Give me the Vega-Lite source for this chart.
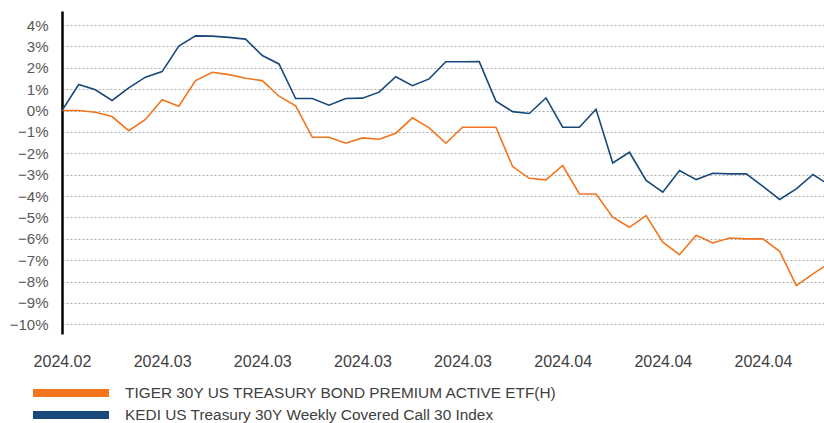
{
  "$schema": "https://vega.github.io/schema/vega-lite/v6.json",
  "width": 762,
  "height": 323,
  "autosize": {"type": "none"},
  "padding": {"left": 62, "top": 11, "right": 0, "bottom": 89},
  "config": {"view": {"stroke": null}, "font": "Liberation Sans"},
  "datasets": {
    "tiger": [
      {"date": "2024-02-22", "value": 0}, {"date": "2024-02-23", "value": 0}, {"date": "2024-02-26", "value": -0.08},
      {"date": "2024-02-27", "value": -0.28}, {"date": "2024-02-28", "value": -0.94}, {"date": "2024-02-29", "value": -0.42},
      {"date": "2024-03-01", "value": 0.51}, {"date": "2024-03-04", "value": 0.2}, {"date": "2024-03-05", "value": 1.4},
      {"date": "2024-03-06", "value": 1.79}, {"date": "2024-03-07", "value": 1.68}, {"date": "2024-03-08", "value": 1.51},
      {"date": "2024-03-11", "value": 1.4}, {"date": "2024-03-12", "value": 0.67}, {"date": "2024-03-13", "value": 0.22},
      {"date": "2024-03-14", "value": -1.25}, {"date": "2024-03-15", "value": -1.25}, {"date": "2024-03-18", "value": -1.53},
      {"date": "2024-03-19", "value": -1.28}, {"date": "2024-03-20", "value": -1.34}, {"date": "2024-03-21", "value": -1.06},
      {"date": "2024-03-22", "value": -0.34}, {"date": "2024-03-25", "value": -0.81}, {"date": "2024-03-26", "value": -1.53},
      {"date": "2024-03-27", "value": -0.78}, {"date": "2024-03-28", "value": -0.78}, {"date": "2024-03-29", "value": -0.78},
      {"date": "2024-04-01", "value": -2.62}, {"date": "2024-04-02", "value": -3.17}, {"date": "2024-04-03", "value": -3.24},
      {"date": "2024-04-04", "value": -2.57}, {"date": "2024-04-05", "value": -3.9}, {"date": "2024-04-08", "value": -3.9},
      {"date": "2024-04-09", "value": -4.99}, {"date": "2024-04-10", "value": -5.46}, {"date": "2024-04-11", "value": -4.91},
      {"date": "2024-04-12", "value": -6.16}, {"date": "2024-04-15", "value": -6.74}, {"date": "2024-04-16", "value": -5.83},
      {"date": "2024-04-17", "value": -6.19}, {"date": "2024-04-18", "value": -5.96}, {"date": "2024-04-19", "value": -6.0},
      {"date": "2024-04-22", "value": -6.0}, {"date": "2024-04-23", "value": -6.58}, {"date": "2024-04-24", "value": -8.19},
      {"date": "2024-04-25", "value": -7.64}, {"date": "2024-04-26", "value": -7.12}
    ],
    "kedi": [
      {"date": "2024-02-22", "value": 0}, {"date": "2024-02-23", "value": 1.22}, {"date": "2024-02-26", "value": 0.97},
      {"date": "2024-02-27", "value": 0.47}, {"date": "2024-02-28", "value": 1.06}, {"date": "2024-02-29", "value": 1.56},
      {"date": "2024-03-01", "value": 1.82}, {"date": "2024-03-04", "value": 3.01}, {"date": "2024-03-05", "value": 3.49},
      {"date": "2024-03-06", "value": 3.48}, {"date": "2024-03-07", "value": 3.42}, {"date": "2024-03-08", "value": 3.34},
      {"date": "2024-03-11", "value": 2.57}, {"date": "2024-03-12", "value": 2.18}, {"date": "2024-03-13", "value": 0.56},
      {"date": "2024-03-14", "value": 0.56}, {"date": "2024-03-15", "value": 0.25}, {"date": "2024-03-18", "value": 0.56},
      {"date": "2024-03-19", "value": 0.58}, {"date": "2024-03-20", "value": 0.86}, {"date": "2024-03-21", "value": 1.58},
      {"date": "2024-03-22", "value": 1.16}, {"date": "2024-03-25", "value": 1.48}, {"date": "2024-03-26", "value": 2.28},
      {"date": "2024-03-27", "value": 2.28}, {"date": "2024-03-28", "value": 2.29}, {"date": "2024-03-29", "value": 0.44},
      {"date": "2024-04-01", "value": -0.05}, {"date": "2024-04-02", "value": -0.14}, {"date": "2024-04-03", "value": 0.59},
      {"date": "2024-04-04", "value": -0.78}, {"date": "2024-04-05", "value": -0.78}, {"date": "2024-04-08", "value": 0.06},
      {"date": "2024-04-09", "value": -2.45}, {"date": "2024-04-10", "value": -1.95}, {"date": "2024-04-11", "value": -3.27},
      {"date": "2024-04-12", "value": -3.82}, {"date": "2024-04-15", "value": -2.81}, {"date": "2024-04-16", "value": -3.23},
      {"date": "2024-04-17", "value": -2.93}, {"date": "2024-04-18", "value": -2.96}, {"date": "2024-04-19", "value": -2.96},
      {"date": "2024-04-22", "value": -3.55}, {"date": "2024-04-23", "value": -4.16}, {"date": "2024-04-24", "value": -3.66},
      {"date": "2024-04-25", "value": -2.99}, {"date": "2024-04-26", "value": -3.5}
    ]
  },
  "layer": [
    {
      "data": {"name": "tiger"},
      "mark": {"type": "line", "strokeWidth": 1.6, "clip": true},
      "encoding": {
        "x": {"field": "date", "type": "ordinal", "sort": null},
        "y": {"field": "value", "type": "quantitative"},
        "color": {"datum": "TIGER 30Y US TREASURY BOND PREMIUM ACTIVE ETF(H)"}
      }
    },
    {
      "data": {"name": "kedi"},
      "mark": {"type": "line", "strokeWidth": 1.6, "clip": true},
      "encoding": {
        "x": {"field": "date", "type": "ordinal", "sort": null},
        "y": {"field": "value", "type": "quantitative"},
        "color": {"datum": "KEDI US Treasury 30Y Weekly Covered Call 30 Index"}
      }
    }
  ],
  "encoding": {
    "x": {
      "field": "date", "type": "ordinal", "sort": null,
      "scale": {"type": "point", "padding": 0, "range": [0, 767.7]},
      "axis": {
        "title": null, "domain": false, "ticks": false, "grid": false, "labelAngle": 0,
        "values": ["2024-02-22", "2024-03-01", "2024-03-11", "2024-03-19", "2024-03-27", "2024-04-04", "2024-04-12", "2024-04-22"],
        "labelExpr": "replace(slice(datum.value,0,7),'-','.')",
        "labelFontSize": 16, "labelColor": "#404040", "labelPadding": 19
      }
    },
    "y": {
      "field": "value", "type": "quantitative",
      "scale": {"domain": [-10.45, 4.655], "nice": false, "zero": false},
      "axis": {
        "title": null, "ticks": false,
        "values": [-10, -9, -8, -7, -6, -5, -4, -3, -2, -1, 0, 1, 2, 3, 4],
        "format": "d", "labelExpr": "datum.label + '%'",
        "labelFontSize": 15, "labelColor": "#595959", "labelPadding": 14,
        "domainColor": "#000000", "domainWidth": 2.5,
        "gridColor": "#ababab", "gridDash": [2, 2], "gridWidth": 1
      }
    },
    "color": {
      "type": "nominal",
      "scale": {
        "domain": ["TIGER 30Y US TREASURY BOND PREMIUM ACTIVE ETF(H)", "KEDI US Treasury 30Y Weekly Covered Call 30 Index"],
        "range": ["#F2741C", "#17497A"]
      },
      "legend": {
        "title": null, "orient": "none", "legendX": -33, "legendY": 374, "direction": "vertical",
        "symbolType": "stroke", "symbolSize": 5776, "symbolStrokeWidth": 8,
        "labelFontSize": 15.4, "labelColor": "#404040", "labelOffset": 12, "labelLimit": 0,
        "clipHeight": 16, "rowPadding": 5, "padding": 0
      }
    }
  }
}
